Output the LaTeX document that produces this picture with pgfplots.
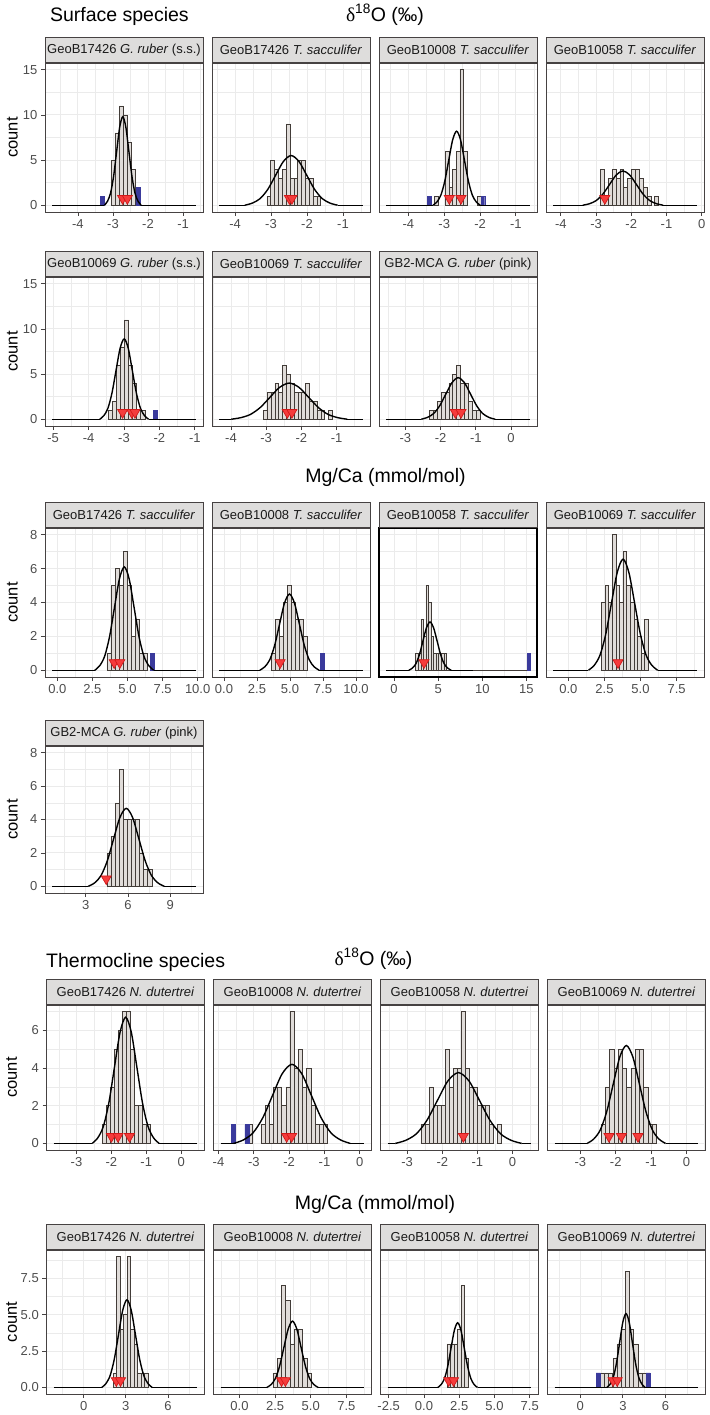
\documentclass[border=0pt]{standalone}
\usepackage{pgfplots}
\pgfplotsset{compat=1.18}
\usepackage{fontspec}
\setmainfont{Liberation Sans}
\newfontfamily\deltafont{Liberation Serif}

\definecolor{bordc}{RGB}{70,66,66}
\definecolor{gridc}{RGB}{235,235,235}
\definecolor{tickc}{RGB}{77,77,77}
\definecolor{stripc}{RGB}{222,221,220}
\definecolor{striptext}{RGB}{26,26,26}
\definecolor{barfill}{RGB}{224,220,217}
\definecolor{barline}{RGB}{66,60,56}
\definecolor{bluec}{RGB}{58,58,156}
\definecolor{redf}{RGB}{245,60,60}
\definecolor{redd}{RGB}{210,25,25}

\pgfplotsset{
  panel/.style={
    scale only axis, width=158pt, anchor=south west,
    axis line style={draw=bordc, line width=0.9pt},
    every tick/.style={draw=bordc, line width=0.8pt},
    tick align=outside, major tick length=4pt, minor tick length=0pt,
    tick pos=left,
    xmajorgrids, ymajorgrids, xminorgrids, yminorgrids,
    major grid style={draw=gridc, line width=0.9pt},
    minor grid style={draw=gridc, line width=0.45pt},
    ticklabel style={font=\fontsize{13}{14}\selectfont, text=tickc},
    xticklabel style={anchor=north, inner sep=0pt, yshift=-3.5pt},
    yticklabel style={anchor=east, inner sep=0pt, xshift=-3.5pt},
    /pgf/number format/assume math mode=true,
    every axis title/.style={at={(0.5,1)}, anchor=south, fill=stripc, draw=bordc,
      line width=0.9pt, minimum width=158pt, minimum height=25pt, inner sep=0pt,
      font=\fontsize{13}{14}\selectfont, text=striptext},
    every axis y label/.style={at={(axis description cs:-0.206,0.5)}, rotate=90,
      anchor=center, font=\fontsize{16.5}{18}\selectfont},
  },
  rw1/.style={height=149pt, ymin=-0.75, ymax=15.75, ytick={0,5,10,15},
    yticklabels={0,5,10,15}, minor ytick={2.5,7.5,12.5}},
  rw3/.style={ymin=-0.4, ymax=8.4, ytick={0,2,4,6,8},
    yticklabels={0,2,4,6,8}, minor ytick={1,3,5,7}},
  rw5/.style={height=145pt, ymin=-0.35, ymax=7.35, ytick={0,2,4,6},
    yticklabels={0,2,4,6}, minor ytick={1,3,5,7}},
  rw6/.style={height=144pt, ymin=-0.45, ymax=9.45, ytick={0,2.5,5,7.5},
    yticklabels={0.0,2.5,5.0,7.5}, minor ytick={1.25,3.75,6.25,8.75}},
  inner/.style={yticklabels={}, ytick style={draw=none}},
  lc/.style={ylabel=count},
  hbar/.style={ybar, bar shift=0pt, fill=barfill, draw=barline, line width=0.6pt},
  obar/.style={ybar, bar shift=0pt, fill=bluec, draw=bluec, line width=0.3pt},
  tri/.style={only marks, mark=triangle*, mark size=5.8pt,
    mark options={rotate=180, fill=redf, draw=redd, line width=0.7pt}},
  cv/.style={black, line width=1.4pt, no marks},
}

\begin{document}
\begin{tikzpicture}[x=1pt,y=1pt]
\path[use as bounding box] (0,0) rectangle (709,-1415);

% ---------------- Surface species, d18O, row 1
\begin{axis}[panel, rw1, lc, at={(45pt,-212pt)}, xmin=-4.94, xmax=-0.43,
  xtick={-4,-3,-2,-1}, xticklabels={-4,-3,-2,-1}, minor xtick={-4.5,-3.5,-2.5,-1.5,-0.5},
  title={GeoB17426 \textit{G. ruber} (s.s.)}]
\addplot[hbar, bar width=0.115] coordinates {(-3.000,5) (-2.885,8) (-2.770,11) (-2.655,10) (-2.540,7) (-2.425,4)};
\addplot[obar, bar width=0.115] coordinates {(-3.30,1) (-2.29,2)};
\addplot[cv] coordinates {(-4.735,0) (-3.245,0)};
\addplot[cv] coordinates {(-2.195,0) (-0.635,0)};
\addplot[cv, smooth] coordinates {(-3.245,0) (-3.1575,0.430) (-3.07,1.326) (-2.9825,3.182) (-2.895,5.944) (-2.8075,8.649) (-2.72,9.8) (-2.6325,8.649) (-2.545,5.944) (-2.4575,3.182) (-2.37,1.326) (-2.2825,0.430) (-2.195,0)};
\addplot[tri] coordinates {(-2.725,0.75) (-2.59,0.75)};
\end{axis}

\begin{axis}[panel, rw1, inner, at={(212pt,-212pt)}, xmin=-4.64, xmax=-0.25,
  xtick={-4,-3,-2,-1}, xticklabels={-4,-3,-2,-1}, minor xtick={-4.5,-3.5,-2.5,-1.5,-0.5},
  title={GeoB17426 \textit{T. sacculifer}}]
\addplot[hbar, bar width=0.107] coordinates {(-3.062,1) (-2.955,5) (-2.848,4) (-2.741,3) (-2.634,4) (-2.527,9) (-2.420,3) (-2.313,3) (-2.206,5) (-2.099,5) (-1.992,3) (-1.885,3) (-1.778,1) (-1.671,1)};
\addplot[cv] coordinates {(-4.44,0) (-3.73,0)};
\addplot[cv] coordinates {(-1.15,0) (-0.45,0)};
\addplot[cv, smooth] coordinates {(-3.73,0) (-3.515,0.241) (-3.30,0.744) (-3.085,1.786) (-2.87,3.336) (-2.655,4.854) (-2.44,5.5) (-2.225,4.854) (-2.01,3.336) (-1.795,1.786) (-1.58,0.744) (-1.365,0.241) (-1.15,0)};
\addplot[tri] coordinates {(-2.49,0.75) (-2.42,0.75)};
\end{axis}

\begin{axis}[panel, rw1, inner, at={(379pt,-212pt)}, xmin=-4.82, xmax=-0.41,
  xtick={-4,-3,-2,-1}, xticklabels={-4,-3,-2,-1}, minor xtick={-4.5,-3.5,-2.5,-1.5,-0.5},
  title={GeoB10008 \textit{T. sacculifer}}]
\addplot[hbar, bar width=0.1] coordinates {(-3.214,1) (-2.914,6) (-2.814,2) (-2.714,4) (-2.614,6) (-2.514,15) (-2.414,6) (-2.014,1)};
\addplot[obar, bar width=0.1] coordinates {(-3.415,1) (-1.92,1)};
\addplot[cv] coordinates {(-4.62,0) (-3.314,0)};
\addplot[cv] coordinates {(-1.994,0) (-0.61,0)};
\addplot[cv, smooth] coordinates {(-3.314,0) (-3.204,0.360) (-3.094,1.109) (-2.984,2.663) (-2.874,4.973) (-2.764,7.237) (-2.654,8.2) (-2.544,7.237) (-2.434,4.973) (-2.324,2.663) (-2.214,1.109) (-2.104,0.360) (-1.994,0)};
\addplot[tri] coordinates {(-2.858,0.75) (-2.533,0.75)};
\end{axis}

\begin{axis}[panel, rw1, inner, at={(546pt,-212pt)}, xmin=-4.42, xmax=0.065,
  xtick={-4,-3,-2,-1,0}, xticklabels={-4,-3,-2,-1,0}, minor xtick={-3.5,-2.5,-1.5,-0.5},
  title={GeoB10058 \textit{T. sacculifer}}]
\addplot[hbar, bar width=0.11] coordinates {(-2.817,4) (-2.707,1) (-2.597,3) (-2.487,4) (-2.377,3) (-2.267,4) (-2.157,2) (-2.047,3) (-1.937,4) (-1.827,4) (-1.717,3) (-1.607,2) (-1.497,1) (-1.277,1)};
\addplot[cv] coordinates {(-4.216,0) (-3.375,0)};
\addplot[cv] coordinates {(-1.095,0) (-0.139,0)};
\addplot[cv, smooth] coordinates {(-3.375,0) (-3.185,0.167) (-2.995,0.514) (-2.805,1.234) (-2.615,2.305) (-2.425,3.354) (-2.235,3.8) (-2.045,3.354) (-1.855,2.305) (-1.665,1.234) (-1.475,0.514) (-1.285,0.167) (-1.095,0)};
\addplot[tri] coordinates {(-2.75,0.75)};
\end{axis}

% ---------------- row 2
\begin{axis}[panel, rw1, lc, at={(45pt,-426pt)}, xmin=-5.23, xmax=-0.77,
  xtick={-5,-4,-3,-2,-1}, xticklabels={-5,-4,-3,-2,-1}, minor xtick={-4.5,-3.5,-2.5,-1.5},
  title={GeoB10069 \textit{G. ruber} (s.s.)}]
\addplot[hbar, bar width=0.115] coordinates {(-3.39,1) (-3.275,2) (-3.16,6) (-3.045,8) (-2.93,11) (-2.815,6) (-2.70,4) (-2.585,1) (-2.47,1)};
\addplot[obar, bar width=0.115] coordinates {(-2.11,1)};
\addplot[cv] coordinates {(-5.027,0) (-3.685,0)};
\addplot[cv] coordinates {(-2.305,0) (-0.973,0)};
\addplot[cv, smooth] coordinates {(-3.685,0) (-3.57,0.391) (-3.455,1.204) (-3.34,2.890) (-3.225,5.398) (-3.11,7.854) (-2.995,8.9) (-2.88,7.854) (-2.765,5.398) (-2.65,2.890) (-2.535,1.204) (-2.42,0.391) (-2.305,0)};
\addplot[tri] coordinates {(-3.04,0.75) (-2.78,0.75) (-2.69,0.75)};
\end{axis}

\begin{axis}[panel, rw1, inner, at={(212pt,-426pt)}, xmin=-4.54, xmax=-0.05,
  xtick={-4,-3,-2,-1}, xticklabels={-4,-3,-2,-1}, minor xtick={-4.5,-3.5,-2.5,-1.5,-0.5},
  title={GeoB10069 \textit{T. sacculifer}}]
\addplot[hbar, bar width=0.109] coordinates {(-3.026,1) (-2.917,3) (-2.808,3) (-2.699,4) (-2.590,3) (-2.481,6) (-2.372,5) (-2.263,4) (-2.154,3) (-2.045,3) (-1.936,3) (-1.827,4) (-1.718,2) (-1.609,2) (-1.500,1) (-1.391,1) (-1.173,1)};
\addplot[cv] coordinates {(-4.336,0) (-3.994,0)};
\addplot[cv] coordinates {(-0.694,0) (-0.254,0)};
\addplot[cv, smooth] coordinates {(-3.994,0) (-3.719,0.176) (-3.444,0.541) (-3.169,1.299) (-2.894,2.426) (-2.619,3.530) (-2.344,4.0) (-2.069,3.530) (-1.794,2.426) (-1.519,1.299) (-1.244,0.541) (-0.969,0.176) (-0.694,0)};
\addplot[tri] coordinates {(-2.40,0.75) (-2.27,0.75)};
\end{axis}

\begin{axis}[panel, rw1, inner, at={(379pt,-426pt)}, xmin=-3.75, xmax=0.74,
  xtick={-3,-2,-1,0}, xticklabels={-3,-2,-1,0}, minor xtick={-3.5,-2.5,-1.5,-0.5,0.5},
  title={GB2-MCA \textit{G. ruber} (pink)}]
\addplot[hbar, bar width=0.11] coordinates {(-2.26,1) (-2.15,1) (-2.04,2) (-1.93,3) (-1.82,3) (-1.71,4) (-1.60,5) (-1.49,6) (-1.38,4) (-1.27,4) (-1.16,2) (-1.05,1) (-0.94,1)};
\addplot[cv] coordinates {(-3.546,0) (-2.55,0)};
\addplot[cv] coordinates {(-0.45,0) (0.536,0)};
\addplot[cv, smooth] coordinates {(-2.55,0) (-2.375,0.202) (-2.2,0.622) (-2.025,1.494) (-1.85,2.790) (-1.675,4.060) (-1.5,4.6) (-1.325,4.060) (-1.15,2.790) (-0.975,1.494) (-0.8,0.622) (-0.625,0.202) (-0.45,0)};
\addplot[tri] coordinates {(-1.58,0.75) (-1.42,0.75)};
\end{axis}

% ---------------- Mg/Ca surface, row 3
\begin{axis}[panel, rw3, height=149pt, lc, at={(45pt,-677pt)}, xmin=-0.88, xmax=10.38,
  xtick={0,2.5,5,7.5,10}, xticklabels={0.0,2.5,5.0,7.5,10.0}, minor xtick={1.25,3.75,6.25,8.75},
  title={GeoB17426 \textit{T. sacculifer}}]
\addplot[hbar, bar width=0.29] coordinates {(3.68,1) (3.97,5) (4.26,6) (4.55,5) (4.84,7) (5.13,5) (5.42,2) (5.71,3) (6.00,1) (6.29,1)};
\addplot[obar, bar width=0.29] coordinates {(6.77,1)};
\addplot[cv] coordinates {(-0.368,0) (2.67,0)};
\addplot[cv] coordinates {(6.87,0) (9.868,0)};
\addplot[cv, smooth] coordinates {(2.67,0) (3.02,0.268) (3.37,0.825) (3.72,1.981) (4.07,3.700) (4.42,5.383) (4.77,6.1) (5.12,5.383) (5.47,3.700) (5.82,1.981) (6.17,0.825) (6.52,0.268) (6.87,0)};
\addplot[tri] coordinates {(4.05,0.45) (4.45,0.45)};
\end{axis}

\begin{axis}[panel, rw3, height=149pt, inner, at={(212pt,-677pt)}, xmin=-0.91, xmax=11.06,
  xtick={0,2.5,5,7.5,10}, xticklabels={0.0,2.5,5.0,7.5,10.0}, minor xtick={1.25,3.75,6.25,8.75},
  title={GeoB10008 \textit{T. sacculifer}}]
\addplot[hbar, bar width=0.3] coordinates {(3.76,1) (4.06,3) (4.36,2) (4.66,4) (4.96,5) (5.26,4) (5.56,3) (5.86,3) (6.16,2)};
\addplot[obar, bar width=0.3] coordinates {(7.47,1)};
\addplot[cv] coordinates {(-0.366,0) (2.71,0)};
\addplot[cv] coordinates {(7.21,0) (10.516,0)};
\addplot[cv, smooth] coordinates {(2.71,0) (3.085,0.198) (3.46,0.609) (3.835,1.461) (4.21,2.729) (4.585,3.971) (4.96,4.5) (5.335,3.971) (5.71,2.729) (6.085,1.461) (6.46,0.609) (6.835,0.198) (7.21,0)};
\addplot[tri] coordinates {(4.25,0.45)};
\end{axis}

\begin{axis}[panel, rw3, height=149pt, inner, at={(379pt,-677pt)}, xmin=-1.7, xmax=16.2,
  xtick={0,5,10,15}, xticklabels={0,5,10,15}, minor xtick={2.5,7.5,12.5},
  axis line style={draw=black, line width=1.3pt},
  title={GeoB10058 \textit{T. sacculifer}}]
\addplot[hbar, bar width=0.29] coordinates {(2.60,1) (2.89,1) (3.18,3) (3.47,2) (3.76,5) (4.05,4) (4.34,2) (4.63,1) (4.92,1) (5.21,1) (5.50,1) (5.79,1)};
\addplot[barline, line width=0.8pt, no marks] coordinates {(5.94,0) (15.05,0)};
\addplot[obar, bar width=0.4] coordinates {(15.25,1)};
\addplot[cv] coordinates {(-0.9,0) (1.68,0)};
\addplot[cv] coordinates {(6.48,0) (9.0,0)};
\addplot[cv, smooth] coordinates {(1.68,0) (2.08,0.125) (2.48,0.385) (2.88,0.925) (3.28,1.729) (3.68,2.515) (4.08,2.85) (4.48,2.515) (4.88,1.729) (5.28,0.925) (5.68,0.385) (6.08,0.125) (6.48,0)};
\addplot[tri] coordinates {(3.40,0.45)};
\end{axis}

\begin{axis}[panel, rw3, height=149pt, inner, at={(546pt,-677pt)}, xmin=-1.55, xmax=9.4,
  xtick={0,2.5,5,7.5}, xticklabels={0.0,2.5,5.0,7.5}, minor xtick={1.25,3.75,6.25,8.75},
  title={GeoB10069 \textit{T. sacculifer}}]
\addplot[hbar, bar width=0.25] coordinates {(2.42,4) (2.67,5) (2.92,4) (3.17,8) (3.42,5) (3.67,4) (3.92,7) (4.17,5) (4.42,4) (4.67,3) (4.92,2) (5.17,1) (5.42,3)};
\addplot[cv] coordinates {(-1.05,0) (1.39,0)};
\addplot[cv] coordinates {(6.19,0) (8.9,0)};
\addplot[cv, smooth] coordinates {(1.39,0) (1.79,0.288) (2.19,0.887) (2.59,2.130) (2.99,3.979) (3.39,5.789) (3.79,6.56) (4.19,5.789) (4.59,3.979) (4.99,2.130) (5.39,0.887) (5.79,0.288) (6.19,0)};
\addplot[tri] coordinates {(3.44,0.45)};
\end{axis}

% ---------------- row 4
\begin{axis}[panel, rw3, height=147pt, lc, at={(45pt,-893pt)}, xmin=0.1, xmax=11.32,
  xtick={3,6,9}, xticklabels={3,6,9}, minor xtick={1.5,4.5,7.5,10.5},
  title={GB2-MCA \textit{G. ruber} (pink)}]
\addplot[hbar, bar width=0.29] coordinates {(4.64,2) (4.93,3) (5.22,5) (5.51,7) (5.80,4) (6.09,4) (6.38,4) (6.67,4) (6.96,2) (7.25,1) (7.54,1)};
\addplot[cv] coordinates {(0.61,0) (3.17,0)};
\addplot[cv] coordinates {(8.57,0) (10.81,0)};
\addplot[cv, smooth] coordinates {(3.17,0) (3.62,0.205) (4.07,0.632) (4.52,1.516) (4.97,2.832) (5.42,4.121) (5.87,4.67) (6.32,4.121) (6.77,2.832) (7.22,1.516) (7.67,0.632) (8.12,0.205) (8.57,0)};
\addplot[tri] coordinates {(4.45,0.45)};
\end{axis}

% ---------------- Thermocline species, d18O, row 5
\begin{axis}[panel, rw5, lc, at={(46.5pt,-1150pt)}, xmin=-3.86, xmax=0.67,
  every axis y label/.append style={at={(axis description cs:-0.22,0.5)}},
  xtick={-3,-2,-1,0}, xticklabels={-3,-2,-1,0}, minor xtick={-3.5,-2.5,-1.5,-0.5,0.5},
  title={GeoB17426 \textit{N. dutertrei}}]
\addplot[hbar, bar width=0.115] coordinates {(-2.20,1) (-2.085,2) (-1.97,3) (-1.855,5) (-1.74,6) (-1.625,7) (-1.51,7) (-1.395,5) (-1.28,2) (-1.165,2) (-1.05,1) (-0.935,1)};
\addplot[cv] coordinates {(-3.654,0) (-2.55,0)};
\addplot[cv] coordinates {(-0.63,0) (0.464,0)};
\addplot[cv, smooth] coordinates {(-2.55,0) (-2.39,0.294) (-2.23,0.905) (-2.07,2.175) (-1.91,4.064) (-1.75,5.913) (-1.59,6.7) (-1.43,5.913) (-1.27,4.064) (-1.11,2.175) (-0.95,0.905) (-0.79,0.294) (-0.63,0)};
\addplot[tri] coordinates {(-2.0,0.37) (-1.81,0.37) (-1.48,0.37)};
\end{axis}

\begin{axis}[panel, rw5, inner, at={(213.5pt,-1150pt)}, xmin=-4.14, xmax=0.33,
  xtick={-4,-3,-2,-1,0}, xticklabels={-4,-3,-2,-1,0}, minor xtick={-3.5,-2.5,-1.5,-0.5},
  title={GeoB10008 \textit{N. dutertrei}}]
\addplot[hbar, bar width=0.118] coordinates {(-3.095,1) (-2.741,1) (-2.623,2) (-2.505,1) (-2.387,3) (-2.269,3) (-2.151,2) (-2.033,3) (-1.915,7) (-1.797,4) (-1.679,5) (-1.561,3) (-1.443,4) (-1.325,2) (-1.207,1) (-1.089,1) (-0.971,1)};
\addplot[obar, bar width=0.118] coordinates {(-3.58,1) (-3.19,1)};
\addplot[cv] coordinates {(-3.937,0) (-3.57,0)};
\addplot[cv] coordinates {(-0.27,0) (0.127,0)};
\addplot[cv, smooth] coordinates {(-3.57,0) (-3.295,0.184) (-3.02,0.568) (-2.745,1.364) (-2.47,2.547) (-2.195,3.707) (-1.92,4.2) (-1.645,3.707) (-1.37,2.547) (-1.095,1.364) (-0.82,0.568) (-0.545,0.184) (-0.27,0)};
\addplot[tri] coordinates {(-2.07,0.37) (-1.93,0.37)};
\end{axis}

\begin{axis}[panel, rw5, inner, at={(380.5pt,-1150pt)}, xmin=-3.76, xmax=0.74,
  xtick={-3,-2,-1,0}, xticklabels={-3,-2,-1,0}, minor xtick={-3.5,-2.5,-1.5,-0.5,0.5},
  title={GeoB10058 \textit{N. dutertrei}}]
\addplot[hbar, bar width=0.115] coordinates {(-2.55,1) (-2.435,1) (-2.32,3) (-2.205,2) (-2.09,2) (-1.975,2) (-1.86,5) (-1.745,3) (-1.63,4) (-1.515,4) (-1.40,7) (-1.285,4) (-1.17,3) (-1.055,3) (-0.94,2) (-0.825,2) (-0.71,2) (-0.595,1) (-0.365,1)};
\addplot[cv] coordinates {(-3.555,0) (-3.34,0)};
\addplot[cv] coordinates {(0.26,0) (0.535,0)};
\addplot[cv, smooth] coordinates {(-3.34,0) (-3.04,0.165) (-2.74,0.510) (-2.44,1.221) (-2.14,2.280) (-1.84,3.318) (-1.54,3.76) (-1.24,3.318) (-0.94,2.280) (-0.64,1.221) (-0.34,0.510) (-0.04,0.165) (0.26,0)};
\addplot[tri] coordinates {(-1.40,0.37)};
\end{axis}

\begin{axis}[panel, rw5, inner, at={(547.5pt,-1150pt)}, xmin=-3.93, xmax=0.54,
  xtick={-3,-2,-1,0}, xticklabels={-3,-2,-1,0}, minor xtick={-3.5,-2.5,-1.5,-0.5,0.5},
  title={GeoB10069 \textit{N. dutertrei}}]
\addplot[hbar, bar width=0.12] coordinates {(-2.35,1) (-2.23,3) (-2.11,5) (-1.99,4) (-1.87,5) (-1.75,4) (-1.63,3) (-1.51,4) (-1.39,5) (-1.27,5) (-1.15,3) (-1.03,1) (-0.91,1)};
\addplot[cv] coordinates {(-3.727,0) (-2.81,0)};
\addplot[cv] coordinates {(-0.59,0) (0.337,0)};
\addplot[cv, smooth] coordinates {(-2.81,0) (-2.625,0.228) (-2.44,0.704) (-2.255,1.688) (-2.07,3.154) (-1.885,4.589) (-1.70,5.2) (-1.515,4.589) (-1.33,3.154) (-1.145,1.688) (-0.96,0.704) (-0.775,0.228) (-0.59,0)};
\addplot[tri] coordinates {(-2.19,0.37) (-1.84,0.37) (-1.37,0.37)};
\end{axis}

% ---------------- Mg/Ca thermocline, row 6
\begin{axis}[panel, rw6, lc, at={(46.5pt,-1394pt)}, xmin=-2.65, xmax=8.6,
  every axis y label/.append style={at={(axis description cs:-0.22,0.5)}},
  xtick={0,3,6}, xticklabels={0,3,6}, minor xtick={-1.5,1.5,4.5,7.5},
  title={GeoB17426 \textit{N. dutertrei}}]
\addplot[hbar, bar width=0.25] coordinates {(2.21,1) (2.46,9) (2.71,4) (2.96,5) (3.21,9) (3.46,4) (3.71,3) (3.96,1) (4.21,1) (4.46,1)};
\addplot[cv] coordinates {(-2.139,0) (1.28,0)};
\addplot[cv] coordinates {(4.88,0) (8.089,0)};
\addplot[cv, smooth] coordinates {(1.28,0) (1.58,0.265) (1.88,0.816) (2.18,1.958) (2.48,3.657) (2.78,5.321) (3.08,6.03) (3.38,5.321) (3.68,3.657) (3.98,1.958) (4.28,0.816) (4.58,0.265) (4.88,0)};
\addplot[tri] coordinates {(2.32,0.47) (2.62,0.47)};
\end{axis}

\begin{axis}[panel, rw6, inner, at={(213.5pt,-1394pt)}, xmin=-1.82, xmax=9.26,
  xtick={0,2.5,5,7.5}, xticklabels={0.0,2.5,5.0,7.5}, minor xtick={-1.25,1.25,3.75,6.25,8.75},
  title={GeoB10008 \textit{N. dutertrei}}]
\addplot[hbar, bar width=0.3] coordinates {(2.49,1) (2.79,2) (3.09,7) (3.39,6) (3.69,3) (3.99,4) (4.29,4) (4.59,2) (4.89,1)};
\addplot[cv] coordinates {(-1.316,0) (1.92,0)};
\addplot[cv] coordinates {(5.52,0) (8.756,0)};
\addplot[cv, smooth] coordinates {(1.92,0) (2.22,0.200) (2.52,0.617) (2.82,1.481) (3.12,2.766) (3.42,4.024) (3.72,4.56) (4.02,4.024) (4.32,2.766) (4.62,1.481) (4.92,0.617) (5.22,0.200) (5.52,0)};
\addplot[tri] coordinates {(2.95,0.47) (3.22,0.47)};
\end{axis}

\begin{axis}[panel, rw6, inner, at={(380.5pt,-1394pt)}, xmin=-3.08, xmax=8.12,
  xtick={-2.5,0,2.5,5,7.5}, xticklabels={-2.5,0.0,2.5,5.0,7.5}, minor xtick={-1.25,1.25,3.75,6.25},
  title={GeoB10058 \textit{N. dutertrei}}]
\addplot[hbar, bar width=0.25] coordinates {(1.75,3) (2.00,3) (2.25,3) (2.50,4) (2.75,7) (3.00,2)};
\addplot[cv] coordinates {(-2.571,0) (0.98,0)};
\addplot[cv] coordinates {(3.8,0) (7.611,0)};
\addplot[cv, smooth] coordinates {(0.98,0) (1.215,0.195) (1.45,0.602) (1.685,1.445) (1.92,2.699) (2.155,3.927) (2.39,4.45) (2.625,3.927) (2.86,2.699) (3.095,1.445) (3.33,0.602) (3.565,0.195) (3.8,0)};
\addplot[tri] coordinates {(1.75,0.47) (2.10,0.47)};
\end{axis}

\begin{axis}[panel, rw6, inner, at={(547.5pt,-1394pt)}, xmin=-2.31, xmax=8.82,
  xtick={0,3,6}, xticklabels={0,3,6}, minor xtick={-1.5,1.5,4.5,7.5},
  title={GeoB10069 \textit{N. dutertrei}}]
\addplot[hbar, bar width=0.295] coordinates {(1.56,1) (1.85,1) (2.14,1) (2.44,2) (2.73,3) (3.02,4) (3.32,8) (3.61,4) (3.91,3) (4.20,1) (4.49,1)};
\addplot[obar, bar width=0.295] coordinates {(1.27,1) (4.78,1)};
\addplot[cv] coordinates {(-1.804,0) (1.87,0)};
\addplot[cv] coordinates {(4.57,0) (8.314,0)};
\addplot[cv, smooth] coordinates {(1.87,0) (2.095,0.223) (2.32,0.687) (2.545,1.649) (2.77,3.081) (2.995,4.483) (3.22,5.08) (3.445,4.483) (3.67,3.081) (3.895,1.649) (4.12,0.687) (4.345,0.223) (4.57,0)};
\addplot[tri] coordinates {(2.31,0.47) (2.60,0.47)};
\end{axis}

% ---------------- section titles
\node[anchor=base west, font=\fontsize{19.5}{22}\selectfont] at (46.5,-21.5) {Surface species};
\node[anchor=base, font=\fontsize{19.5}{22}\selectfont] at (385,-21.5) {{\deltafont δ}\textsuperscript{18}O (‰)};
\node[anchor=base, font=\fontsize{19.5}{22}\selectfont] at (385.5,-482) {Mg/Ca (mmol/mol)};
\node[anchor=base west, font=\fontsize{19.5}{22}\selectfont] at (42.7,-967) {Thermocline species};
\node[anchor=base, font=\fontsize{19.5}{22}\selectfont] at (373.5,-965) {{\deltafont δ}\textsuperscript{18}O (‰)};
\node[anchor=base, font=\fontsize{19.5}{22}\selectfont] at (375,-1209) {Mg/Ca (mmol/mol)};
\end{tikzpicture}
\end{document}
